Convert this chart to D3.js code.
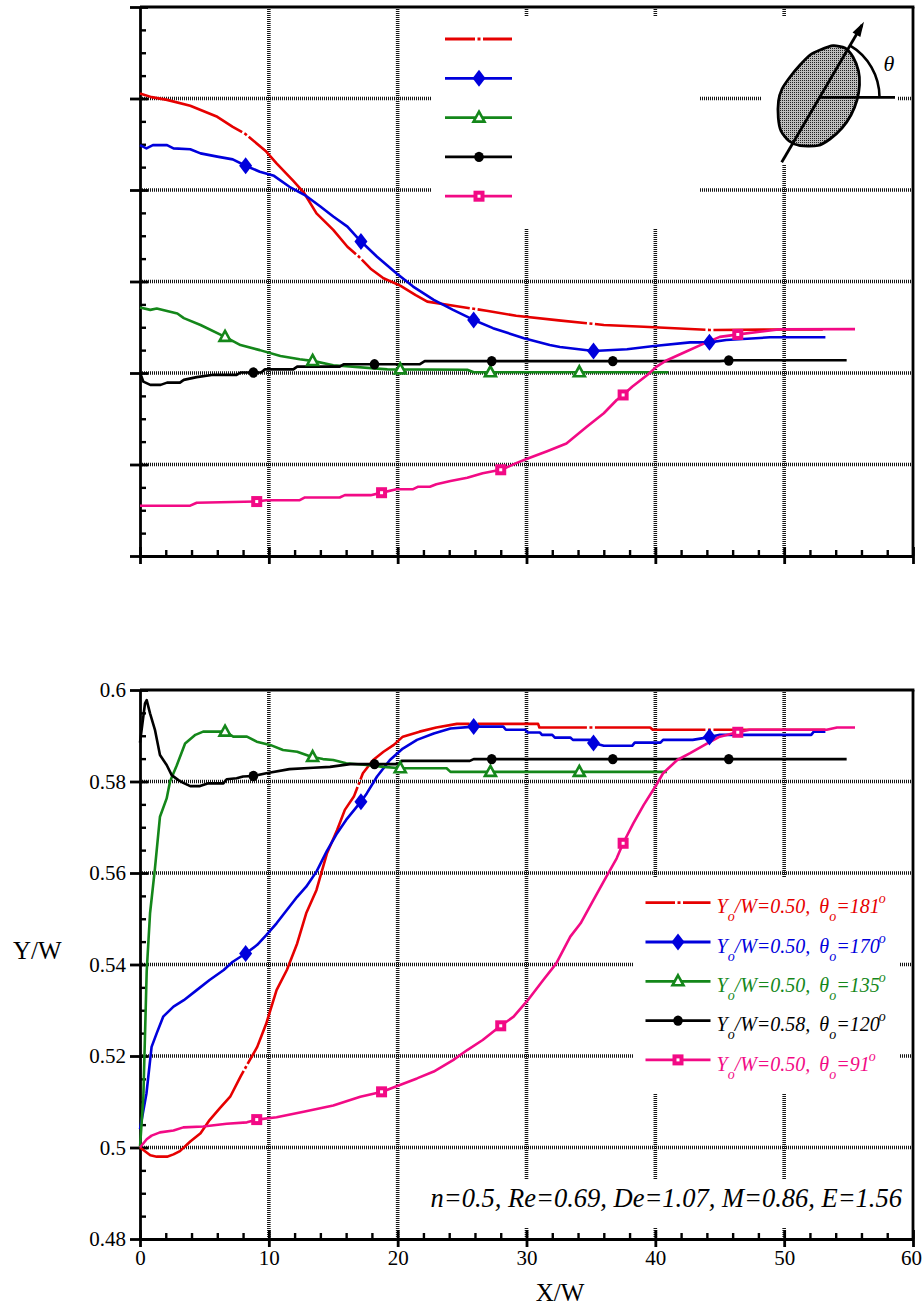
<!DOCTYPE html>
<html><head><meta charset="utf-8">
<script src="https://cdn.jsdelivr.net/npm/d3@7"></script>
<style>body{margin:0;background:#fff}svg{display:block}</style>
</head><body>
<script>
// ---------------- DATA ----------------
const xMajor = [0,10,20,30,40,50,60];
const xLabels = ["0","10","20","30","40","50","60"];
const xMinor = [2,4,6,8,12,14,16,18,22,24,26,28,32,34,36,38,42,44,46,48,52,54,56,58];
const xGrid = [10,20,30,40,50];
const thetaMajor = [80,100,120,140,160,180,200];
const thetaGrid = [100,120,140,160,180];
const thetaMinor = [85,90,95,105,110,115,125,130,135,145,150,155,165,170,175,185,190,195];
const yMajor = [0.48,0.5,0.52,0.54,0.56,0.58,0.6];
const yLabels = ["0.48","0.5","0.52","0.54","0.56","0.58","0.6"];
const yGrid = [0.5,0.52,0.54,0.56,0.58];
const yMinor = [0.485,0.49,0.495,0.505,0.51,0.515,0.525,0.53,0.535,0.545,0.55,0.555,0.565,0.57,0.575,0.585,0.59,0.595];

const legendYo = ["0.50","0.50","0.50","0.58","0.50"];
const legendTheta = ["181","170","135","120","91"];
const noteText = "n=0.5, Re=0.69, De=1.07, M=0.86, E=1.56";

// top panel: orientation angle theta (deg) vs X/W
const topRed = [[0,181.1],[0.9,180.3],[2.1,179.7],[3.9,178.4],[6.0,176.0],[7.2,173.8],[8.2,172.2],[9.8,168.4],[10.6,165.8],[11.9,162.0],[12.7,159.5],[13.7,154.9],[15.0,151.3],[16.1,147.6],[17.0,145.4],[17.9,142.8],[18.9,140.7],[20.2,139.1],[21.4,137.0],[22.3,135.6],[24.6,134.6],[26.9,133.6],[29.2,132.5],[32.5,131.5],[36.0,130.5],[39.1,130.1],[44.2,129.4],[49.7,129.5],[53.0,129.5]];
const topBlue = [[0,169.8],[0.5,169.1],[1.0,169.8],[2.1,169.8],[2.6,169.1],[3.9,168.9],[4.7,168.0],[6.0,167.3],[7.2,166.7],[8.2,165.3],[9.3,164.0],[10.4,163.1],[11.6,160.7],[12.9,158.7],[14.0,156.4],[15.0,154.2],[16.1,152.0],[17.1,148.9],[18.4,145.4],[19.9,141.8],[21.2,138.9],[22.8,136.0],[24.3,133.8],[25.9,131.6],[27.4,129.8],[29.8,127.6],[31.8,126.1],[32.6,125.7],[35.2,124.8],[37.8,125.2],[39.9,125.9],[42.7,126.7],[44.2,126.7],[45.5,127.2],[48.9,127.8],[53.2,127.8]];
const topGreen = [[0,134.3],[0.8,133.8],[1.3,134.1],[2.9,133.0],[3.4,132.0],[4.7,130.5],[6.6,127.9],[7.8,126.1],[9.3,125.0],[10.9,123.7],[12.4,123.0],[13.5,122.6],[15.0,121.7],[19.2,120.8],[25.4,120.7],[25.9,120.15],[41.0,120.15]];
const topBlack = [[0,120.1],[0.26,118.1],[0.8,117.4],[1.6,117.4],[2.1,117.9],[3.1,117.9],[3.4,118.5],[4.4,119.1],[5.7,119.6],[7.5,119.6],[7.8,120.1],[9.4,120.1],[9.7,120.8],[11.9,120.8],[12.2,121.4],[15.5,121.4],[15.8,121.9],[21.7,121.9],[22.1,122.6],[45.0,122.6],[46.0,122.8],[54.85,122.8]];
const topPink = [[0,91.0],[3.9,91.0],[4.4,91.65],[9.06,91.9],[9.8,92.2],[12.4,92.2],[12.8,92.8],[15.5,92.8],[15.9,93.3],[17.9,93.3],[18.7,93.8],[19.9,94.6],[21.2,94.6],[21.6,95.15],[22.5,95.15],[23.0,95.7],[24.1,96.4],[25.4,97.1],[26.6,98.1],[28.1,98.9],[29.2,100.3],[30.0,101.2],[31.6,102.9],[33.1,104.6],[34.7,108.3],[36.0,111.2],[37.0,114.1],[37.5,115.2],[38.2,117.0],[39.4,119.6],[40.1,121.4],[40.9,122.8],[42.4,124.7],[43.5,126.1],[45.0,127.9],[46.6,128.5],[48.1,129.0],[49.7,129.55],[55.5,129.6]];

// bottom panel: Y/W vs X/W
const botRed = [[0,0.5],[0.8,0.4983],[1.3,0.498],[2.1,0.498],[2.6,0.4985],[3.1,0.4992],[3.9,0.5013],[4.7,0.5031],[5.4,0.506],[6.2,0.5086],[7.0,0.5111],[7.8,0.5155],[8.3,0.518],[9.1,0.522],[9.8,0.5271],[10.6,0.5344],[11.4,0.5388],[12.2,0.5446],[12.9,0.5512],[13.7,0.5563],[14.5,0.5642],[15.3,0.5694],[15.9,0.5738],[16.6,0.5767],[17.3,0.5818],[18.1,0.5847],[18.9,0.5865],[19.7,0.588],[20.4,0.5898],[21.7,0.5909],[23.0,0.5918],[24.6,0.5926],[30.9,0.5926],[31.0,0.5918],[39.6,0.5918],[39.8,0.5913],[53.2,0.5913]];
const botBlue = [[0,0.504],[0.5,0.5118],[0.9,0.522],[1.3,0.525],[1.8,0.5286],[2.6,0.5308],[3.4,0.5322],[4.4,0.5344],[5.4,0.5366],[6.5,0.5388],[7.2,0.5406],[8.2,0.5424],[9.1,0.5443],[9.8,0.5464],[10.6,0.549],[11.4,0.5519],[12.2,0.5548],[12.9,0.557],[13.7,0.5603],[14.5,0.5648],[15.3,0.5687],[16.0,0.5716],[17.15,0.5756],[17.6,0.5774],[18.4,0.5811],[19.4,0.5847],[20.4,0.5872],[21.5,0.5891],[22.8,0.5905],[24.1,0.5916],[25.9,0.592],[28.2,0.592],[28.4,0.5913],[29.9,0.5913],[30.1,0.5907],[31.05,0.5907],[31.2,0.5902],[32.0,0.5902],[32.2,0.5896],[33.4,0.5896],[33.6,0.5891],[34.9,0.5891],[35.2,0.5884],[36.0,0.5878],[38.2,0.5878],[38.4,0.5885],[40.4,0.5885],[40.6,0.5891],[42.9,0.5891],[44.2,0.5897],[45.0,0.5902],[52.1,0.5902],[52.3,0.5909],[53.2,0.5909]];
const botGreen = [[0,0.5],[0.26,0.5111],[0.52,0.5385],[0.78,0.5512],[1.16,0.561],[1.55,0.5723],[2.07,0.5763],[2.33,0.58],[2.85,0.5835],[3.5,0.5883],[4.3,0.5902],[4.9,0.5909],[6.6,0.5909],[7.24,0.5898],[8.3,0.5898],[9.06,0.5887],[10.1,0.588],[11.1,0.5869],[12.2,0.5865],[13.3,0.5854],[14.2,0.5849],[15.0,0.5847],[16.0,0.584],[17.6,0.5836],[18.9,0.5832],[20.2,0.5829],[23.8,0.5829],[24.1,0.5821],[40.9,0.5821]];
const botBlack = [[0,0.5885],[0.39,0.5971],[0.52,0.5978],[0.78,0.5949],[1.16,0.5913],[1.55,0.5858],[2.07,0.5836],[2.46,0.5814],[2.98,0.5803],[3.36,0.5797],[3.9,0.579],[4.66,0.579],[5.3,0.5796],[6.47,0.5796],[6.73,0.5805],[7.5,0.5807],[8.0,0.5811],[8.8,0.5812],[9.8,0.5818],[11.6,0.5827],[13.45,0.583],[14.75,0.5832],[16.3,0.5838],[20.2,0.5838],[20.3,0.5845],[25.6,0.5845],[25.9,0.5849],[54.85,0.5849]];
const botPink = [[0,0.5],[0.52,0.5018],[0.9,0.5026],[1.55,0.5033],[2.6,0.5037],[3.36,0.5044],[4.9,0.5046],[6.73,0.5052],[8.3,0.5055],[9.06,0.5061],[10.6,0.5066],[12.7,0.5078],[15.0,0.5092],[17.1,0.5111],[18.8,0.5122],[21.5,0.5151],[22.8,0.5166],[24.3,0.5191],[25.4,0.5213],[26.6,0.5235],[27.9,0.5264],[29.0,0.5286],[30.1,0.5322],[31.3,0.5366],[32.3,0.5402],[33.4,0.5461],[34.2,0.549],[35.2,0.5541],[36.2,0.5592],[37.0,0.5632],[37.5,0.5665],[38.3,0.5709],[39.1,0.5749],[40.0,0.5789],[40.6,0.5818],[41.7,0.5847],[42.7,0.5862],[44.0,0.5883],[45.0,0.5898],[46.3,0.5907],[47.3,0.5913],[53.3,0.5913],[54.1,0.5918],[55.5,0.5918]];

// marker / dash-dot break positions along X/W
const redBreaksX = [8.2,17.0,25.9,35.0,44.2];
const blueMarkX = [8.2,17.15,25.9,35.2,44.2];
const greenMarkX = [6.6,13.4,20.2,27.2,34.1];
const blackMarkX = [8.8,18.2,27.3,36.7,45.7];
const pinkMarkX = [9.06,18.75,28.0,37.5,46.4];

// ---------------- DRAWING ----------------
const colors = {red:"#e60000", blue:"#0000dc", green:"#14871a", black:"#000000", pink:"#f20a85"};
const FONT = "Liberation Serif, Times New Roman, serif";
const svg = d3.select("body").append("svg").attr("width",922).attr("height",1308).attr("font-family",FONT);

const defs = svg.append("defs");
const pat = defs.append("pattern").attr("id","stip").attr("patternUnits","userSpaceOnUse").attr("width",2).attr("height",2);
pat.append("rect").attr("width",2).attr("height",2).attr("fill","#bdbdbd");
pat.append("rect").attr("width",1).attr("height",1).attr("fill","#222");

const x = d3.scaleLinear().domain([0,60]).range([140,913]);
const yT = d3.scaleLinear().domain([80,200]).range([556,7]);
const yB = d3.scaleLinear().domain([0.48,0.6]).range([1239,690]);

function drawGrid(ys, ygrid){
  const g = svg.append("g").attr("stroke","#161616").attr("stroke-width",3.6).attr("stroke-dasharray","1,1");
  const [y0,y1] = ys.range();
  g.selectAll(".v").data(xGrid).join("line").attr("x1",d=>x(d)).attr("x2",d=>x(d)).attr("y1",y1).attr("y2",y0);
  g.selectAll(".h").data(ygrid).join("line").attr("x1",x(0)).attr("x2",x(60)).attr("y1",d=>ys(d)).attr("y2",d=>ys(d));
}
function whiteBox(x0,y0,w,h){ svg.append("rect").attr("x",x0).attr("y",y0).attr("width",w).attr("height",h).attr("fill","#fff"); }

function drawAxes(ys, major, minor, labels){
  const [y0,y1] = ys.range();
  const gb = svg.append("g").attr("transform",`translate(0,${y0})`)
    .call(d3.axisBottom(x).tickValues(xMajor).tickSizeOuter(0).tickFormat(labels ? (d,i)=>xLabels[i] : ""));
  gb.attr("font-family",FONT);
  gb.select(".domain").attr("stroke","#000").attr("stroke-width",2.8);
  gb.selectAll(".tick line").attr("y1",-9).attr("y2",8).attr("stroke","#000").attr("stroke-width",2.8);
  gb.selectAll(".tick text").attr("y",26).attr("dy",0).attr("font-size",21).attr("fill","#000")
    .attr("dx",(d,i)=> i===xMajor.length-1 ? -2 : 0);
  const gbm = svg.append("g").attr("transform",`translate(0,${y0})`)
    .call(d3.axisBottom(x).tickValues(xMinor).tickFormat(""));
  gbm.select(".domain").remove();
  gbm.selectAll(".tick line").attr("y1",0).attr("y2",-6).attr("stroke","#000").attr("stroke-width",2.4);
  const gl = svg.append("g").attr("transform",`translate(${x(0)},0)`)
    .call(d3.axisLeft(ys).tickValues(major).tickSizeOuter(0).tickFormat(labels ? (d,i)=>labels[i] : ""));
  gl.attr("font-family",FONT);
  gl.select(".domain").attr("stroke","#000").attr("stroke-width",2.8);
  gl.selectAll(".tick line").attr("x1",8).attr("x2",-10).attr("stroke","#000").attr("stroke-width",2.8);
  gl.selectAll(".tick text").attr("x",-14).attr("dy","0.33em").attr("font-size",21).attr("fill","#000");
  const glm = svg.append("g").attr("transform",`translate(${x(0)},0)`)
    .call(d3.axisLeft(ys).tickValues(minor).tickFormat(""));
  glm.select(".domain").remove();
  glm.selectAll(".tick line").attr("x1",0).attr("x2",6).attr("stroke","#000").attr("stroke-width",2.4);
  svg.append("line").attr("x1",x(0)).attr("x2",x(60)+1.4).attr("y1",y1).attr("y2",y1).attr("stroke","#000").attr("stroke-width",2.8);
  svg.append("line").attr("x1",x(60)).attr("x2",x(60)).attr("y1",y1).attr("y2",y0).attr("stroke","#000").attr("stroke-width",2.8);
}

function interp(data, xv){
  const i = d3.bisector(d=>d[0]).right(data, xv);
  if(i<=0) return data[0][1];
  if(i>=data.length) return data[data.length-1][1];
  const a=data[i-1], b=data[i];
  return a[1] + (b[1]-a[1])*(xv-a[0])/(b[0]-a[0]);
}

function marker(g, type, cx, cy, col){
  if(type==="diamond"){
    g.append("path").attr("d",`M${cx},${cy-8.5}L${cx+6.5},${cy}L${cx},${cy+8.5}L${cx-6.5},${cy}Z`).attr("fill",col);
  } else if(type==="triangle"){
    g.append("path").attr("d",`M${cx},${cy-6}L${cx+5.5},${cy+4}L${cx-5.5},${cy+4}Z`).attr("fill","#fff").attr("stroke",col).attr("stroke-width",2.6).attr("stroke-linejoin","miter");
  } else if(type==="circle"){
    g.append("ellipse").attr("cx",cx).attr("cy",cy).attr("rx",4.8).attr("ry",5.2).attr("fill",col);
  } else if(type==="square"){
    g.append("rect").attr("x",cx-5.5).attr("y",cy-5.5).attr("width",11).attr("height",11).attr("fill",col);
    g.append("rect").attr("x",cx-1.5).attr("y",cy-1.5).attr("width",3).attr("height",3).attr("fill","#fff");
  }
}

function dashDotArray(node, breaks){
  const total = node.getTotalLength();
  const Ls = breaks.map(bx=>{
    const px = x(bx); let lo=0, hi=total;
    for(let k=0;k<40;k++){ const m=(lo+hi)/2; if(node.getPointAtLength(m).x < px) lo=m; else hi=m; }
    return (lo+hi)/2;
  });
  const arr=[]; let prev=0;
  Ls.forEach(L=>{ arr.push(Math.max(0,L-4-prev),2.5,3,2.5); prev=L+4; });
  arr.push(total-prev+20, 5);
  return arr.join(",");
}

function drawPanel(ys, sets){
  const line = d3.line().x(d=>x(d[0])).y(d=>ys(d[1]));
  const g = svg.append("g");
  sets.forEach(s=>{
    const p = g.append("path").datum(s.data).attr("d",line).attr("fill","none")
      .attr("stroke",s.col).attr("stroke-width",2.6).attr("stroke-linejoin","round");
    if(s.breaks) p.attr("stroke-dasharray", dashDotArray(p.node(), s.breaks));
  });
  sets.forEach(s=>{
    if(s.marks) s.marks.forEach(mx=>marker(g, s.type, x(mx), ys(interp(s.data,mx)), s.col));
  });
}

const seriesStyle = [
  {col:colors.red, type:null},
  {col:colors.blue, type:"diamond"},
  {col:colors.green, type:"triangle"},
  {col:colors.black, type:"circle"},
  {col:colors.pink, type:"square"}
];

function drawLegendSamples(x0, x1, xm, yStart, step, redDash){
  const g = svg.append("g");
  seriesStyle.forEach((s,i)=>{
    const yy = yStart + i*step;
    const l = g.append("line").attr("x1",x0).attr("x2",x1).attr("y1",yy).attr("y2",yy).attr("stroke",s.col).attr("stroke-width",2.8);
    if(i===0) l.attr("stroke-dasharray",redDash);
    if(s.type) marker(g, s.type, xm, yy, s.col);
  });
}

// ---- top panel ----
drawGrid(yT, thetaGrid);
whiteBox(432,16,268,213);
whiteBox(761,17,136,148);
drawAxes(yT, thetaMajor, thetaMinor, null);
drawPanel(yT, [
  {data:topRed, col:colors.red, breaks:redBreaksX},
  {data:topBlue, col:colors.blue, type:"diamond", marks:blueMarkX},
  {data:topGreen, col:colors.green, type:"triangle", marks:greenMarkX},
  {data:topBlack, col:colors.black, type:"circle", marks:blackMarkX},
  {data:topPink, col:colors.pink, type:"square", marks:pinkMarkX}
]);
drawLegendSamples(445, 512, 479, 39, 39.3, "30,2.5,3,2.5,40");

// inset sketch (particle orientation)
(function(){
  const cx=819.5, cy=97.3, ang=59.7;
  const g = svg.append("g");
  const blob = [[820,50],[833,45.7],[845,48],[853,57],[858.5,71],[859.5,85],[857,100],[851,115],[842,128],[830,139],[818,145.5],[800,145.7],[789,141],[781,131],[778.3,118],[778.5,101],[782,89],[790,77],[800,65],[810,55]];
  g.append("path").attr("d", d3.line().curve(d3.curveCardinalClosed.tension(0.3))(blob))
    .attr("fill","url(#stip)").attr("stroke","#000").attr("stroke-width",2.8);
  const rad = ang*Math.PI/180;
  g.append("line").attr("x1",781.7).attr("y1",162.3).attr("x2",862).attr("y2",25).attr("stroke","#000").attr("stroke-width",2.8);
  const tx=864, ty=21.7, ux=Math.cos(rad), uy=-Math.sin(rad);
  const bx=tx-ux*15, by=ty-uy*15, nx=-uy, ny=ux;
  g.append("path").attr("d",`M${tx},${ty}L${bx+nx*4.5},${by+ny*4.5}L${bx-nx*4.5},${by-ny*4.5}Z`).attr("fill","#000");
  g.append("line").attr("x1",cx).attr("y1",cy).attr("x2",895).attr("y2",cy).attr("stroke","#000").attr("stroke-width",2.8);
  const r=60;
  g.append("path").attr("d",`M${cx+r},${cy}A${r},${r} 0 0 0 ${cx+r*Math.cos(rad)},${cy-r*Math.sin(rad)}`).attr("fill","none").attr("stroke","#000").attr("stroke-width",2.6);
  g.append("text").attr("x",889).attr("y",70.5).attr("text-anchor","middle").attr("font-size",22).attr("font-style","italic").text("θ");
})();

// ---- bottom panel ----
drawGrid(yB, yGrid);
whiteBox(633,878,267,215);
whiteBox(412,1179,493,49);
drawAxes(yB, yMajor, yMinor, yLabels);
drawPanel(yB, [
  {data:botRed, col:colors.red, breaks:redBreaksX},
  {data:botBlue, col:colors.blue, type:"diamond", marks:blueMarkX},
  {data:botGreen, col:colors.green, type:"triangle", marks:greenMarkX},
  {data:botBlack, col:colors.black, type:"circle", marks:blackMarkX},
  {data:botPink, col:colors.pink, type:"square", marks:pinkMarkX}
]);
drawLegendSamples(645.5, 710.5, 678, 902.7, 39.3, "29.5,2.5,3,2.5,40");

// legend labels
seriesStyle.forEach((s,i)=>{
  const yy = 902.7 + i*39.3 + 10.6;
  const t = svg.append("text").attr("x",716.5).attr("y",yy).attr("font-size",20).attr("font-style","italic").attr("fill",s.col);
  t.append("tspan").text("Y");
  t.append("tspan").attr("dy",8).attr("font-size",14).text("o");
  t.append("tspan").attr("dy",-8).text("/W="+legendYo[i]+",");
  t.append("tspan").attr("dx",9).text("θ");
  t.append("tspan").attr("dy",8).attr("font-size",14).text("o");
  t.append("tspan").attr("dy",-8).text("="+legendTheta[i]);
  t.append("tspan").attr("dx",-1).attr("dy",-10).attr("font-size",14).text("o");
});

svg.append("text").attr("x",902).attr("y",1206.5).attr("text-anchor","end").attr("font-size",26.5).attr("font-style","italic").text(noteText);

// axis titles
svg.append("text").attr("x",13).attr("y",959).attr("font-size",25).text("Y/W");
svg.append("text").attr("x",560).attr("y",1301).attr("text-anchor","middle").attr("font-size",25).text("X/W");
</script>
</body></html>
